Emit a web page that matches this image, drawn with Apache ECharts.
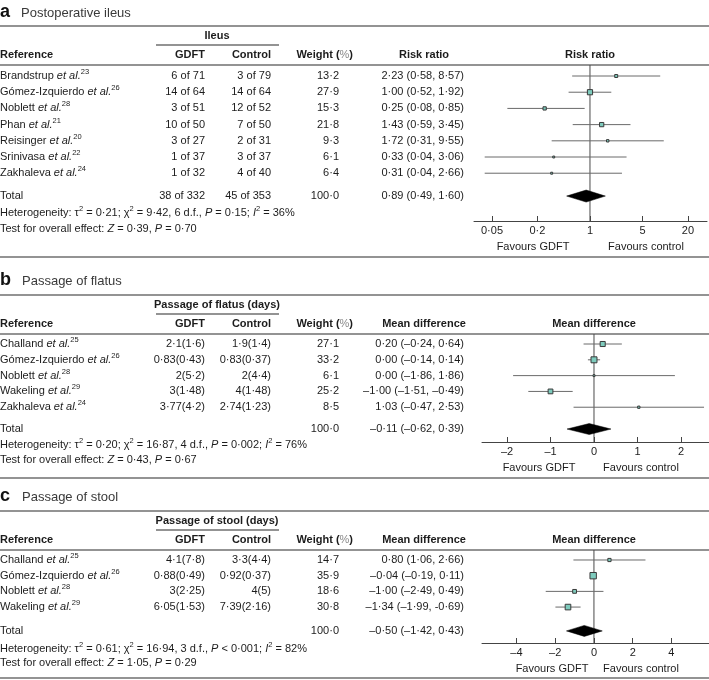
<!DOCTYPE html>
<html><head><meta charset="utf-8">
<script src="https://cdn.jsdelivr.net/npm/echarts@6/dist/echarts.min.js"></script>
<style>html,body{margin:0;padding:0;background:#fff}#c{width:709px;height:680px}</style>
</head><body><div id="c"></div>
<script>
// ---------- Panel a: Postoperative ileus (risk ratio, log scale) ----------
const refsA = ['Brandstrup', 'Gómez-Izquierdo', 'Noblett', 'Phan', 'Reisinger', 'Srinivasa', 'Zakhaleva'];
const supA = ['23', '26', '28', '21', '20', '22', '24'];
const gdftA = ['6 of 71', '14 of 64', '3 of 51', '10 of 50', '3 of 27', '1 of 37', '1 of 32'];
const ctrlA = ['3 of 79', '14 of 64', '12 of 52', '7 of 50', '2 of 31', '3 of 37', '4 of 40'];
const weightA = [13.2, 27.9, 15.3, 21.8, 9.3, 6.1, 6.4];
const estA = [2.23, 1.00, 0.25, 1.43, 1.72, 0.33, 0.31];
const loA = [0.58, 0.52, 0.08, 0.59, 0.31, 0.04, 0.04];
const hiA = [8.57, 1.92, 0.85, 3.45, 9.55, 3.06, 2.66];
const estTextA = ['2·23 (0·58, 8·57)', '1·00 (0·52, 1·92)', '0·25 (0·08, 0·85)', '1·43 (0·59, 3·45)', '1·72 (0·31, 9·55)', '0·33 (0·04, 3·06)', '0·31 (0·04, 2·66)'];
const totalA = { gdft: '38 of 332', ctrl: '45 of 353', weight: 100.0, est: 0.89, lo: 0.49, hi: 1.60, text: '0·89 (0·49, 1·60)' };
const ticksA = [0.05, 0.2, 1, 5, 20];

// ---------- Panel b: Passage of flatus (mean difference) ----------
const refsB = ['Challand', 'Gómez-Izquierdo', 'Noblett', 'Wakeling', 'Zakhaleva'];
const supB = ['25', '26', '28', '29', '24'];
const gdftB = ['2·1(1·6)', '0·83(0·43)', '2(5·2)', '3(1·48)', '3·77(4·2)'];
const ctrlB = ['1·9(1·4)', '0·83(0·37)', '2(4·4)', '4(1·48)', '2·74(1·23)'];
const weightB = [27.1, 33.2, 6.1, 25.2, 8.5];
const estB = [0.20, 0.00, 0.00, -1.00, 1.03];
const loB = [-0.24, -0.14, -1.86, -1.51, -0.47];
const hiB = [0.64, 0.14, 1.86, -0.49, 2.53];
const estTextB = ['0·20 (–0·24, 0·64)', '0·00 (–0·14, 0·14)', '0·00 (–1·86, 1·86)', '–1·00 (–1·51, –0·49)', '1·03 (–0·47, 2·53)'];
const totalB = { gdft: '', ctrl: '', weight: 100.0, est: -0.11, lo: -0.62, hi: 0.39, text: '–0·11 (–0·62, 0·39)' };
const ticksB = [-2, -1, 0, 1, 2];

// ---------- Panel c: Passage of stool (mean difference) ----------
const refsC = ['Challand', 'Gómez-Izquierdo', 'Noblett', 'Wakeling'];
const supC = ['25', '26', '28', '29'];
const gdftC = ['4·1(7·8)', '0·88(0·49)', '3(2·25)', '6·05(1·53)'];
const ctrlC = ['3·3(4·4)', '0·92(0·37)', '4(5)', '7·39(2·16)'];
const weightC = [14.7, 35.9, 18.6, 30.8];
const estC = [0.80, -0.04, -1.00, -1.34];
const loC = [-1.06, -0.19, -2.49, -1.99];
const hiC = [2.66, 0.11, 0.49, -0.69];
const estTextC = ['0·80 (1·06, 2·66)', '–0·04 (–0·19, 0·11)', '–1·00 (–2·49, 0·49)', '–1·34 (–1·99, -0·69)'];
const totalC = { gdft: '', ctrl: '', weight: 100.0, est: -0.50, lo: -1.42, hi: 0.43, text: '–0·50 (–1·42, 0·43)' };
const ticksC = [-4, -2, 0, 2, 4];

// ---------- styling ----------
const FONT = '"Liberation Sans", Arial, Helvetica, sans-serif';
const TXT = '#1c1c1c';
const RULE = '#6f6f6f';
const SQ_FILL = '#7ecbbd';

const panels = [
  { key: 'a', title: 'Postoperative ileus', group: 'Ileus', measure: 'Risk ratio', log: true,
    refs: refsA, sup: supA, gdft: gdftA, ctrl: ctrlA, weight: weightA, est: estA, lo: loA, hi: hiA, estText: estTextA, total: totalA, ticks: ticksA,
    het: 'Heterogeneity: τ{s|2} = 0·21; χ{s|2} = 9·42, 6 d.f., {i|P} = 0·15; {i|I}{s|2} = 36%',
    test: 'Test for overall effect: {i|Z} = 0·39, {i|P} = 0·70',
    gridTop: 65, gridH: 156, yMin: -0.68, yMax: 8.95, totalRow: 7.41, left: 474, right: 2, xMin: -1.540, xMax: 1.554,
    titleY: 12, topRule: 26, groupY: 36, underY: 45, headY: 55, hetY: 213, testY: 229, favY: 247, favG: 533, favC: 646, endRule: 257, diaH: 6 },
  { key: 'b', title: 'Passage of flatus', group: 'Passage of flatus (days)', measure: 'Mean difference', log: false,
    refs: refsB, sup: supB, gdft: gdftB, ctrl: ctrlB, weight: weightB, est: estB, lo: loB, hi: hiB, estText: estTextB, total: totalB, ticks: ticksB,
    het: 'Heterogeneity: τ{s|2} = 0·20; χ{s|2} = 16·87, 4 d.f., {i|P} = 0·002; {i|I}{s|2} = 76%',
    test: 'Test for overall effect: {i|Z} = 0·43, {i|P} = 0·67',
    gridTop: 334, gridH: 108, yMin: -0.633, yMax: 6.2, totalRow: 5.38, left: 482, right: 0, xMin: -2.575, xMax: 2.644,
    titleY: 280, topRule: 295, groupY: 305, underY: 314, headY: 324, hetY: 445, testY: 460, favY: 468, favG: 539, favC: 641, endRule: 478, diaH: 5.5 },
  { key: 'c', title: 'Passage of stool', group: 'Passage of stool (days)', measure: 'Mean difference', log: false,
    refs: refsC, sup: supC, gdft: gdftC, ctrl: ctrlC, weight: weightC, est: estC, lo: loC, hi: hiC, estText: estTextC, total: totalC, ticks: ticksC,
    het: 'Heterogeneity: τ{s|2} = 0·61; χ{s|2} = 16·94, 3 d.f., {i|P} < 0·001; {i|I}{s|2} = 82%',
    test: 'Test for overall effect: {i|Z} = 1·05, {i|P} = 0·29',
    gridTop: 550, gridH: 93, yMin: -0.637, yMax: 5.29, totalRow: 4.52, left: 482, right: 0, xMin: -5.78, xMax: 5.94,
    titleY: 496, topRule: 511, groupY: 521, underY: 530, headY: 540, hetY: 649, testY: 663, favY: 669, favG: 552, favC: 641, endRule: 678, diaH: 5.5 }
];

// column anchors (table grid x units = pixels)
const COL = { ref: 0, gdft: 205, ctrl: 271, weight: 339, est: 464 };

const dot = s => String(s).replace('.', '·');
const fmtTick = v => {
  const r = Math.round(v * 100) / 100;
  return dot(r).replace('-', '–');
};

const richBase = {
  n: { fontSize: 11, fontFamily: FONT, fill: TXT, color: TXT, lineHeight: 16 },
  i: { fontSize: 11, fontFamily: FONT, fontStyle: 'italic', fill: TXT, color: TXT, lineHeight: 16 },
  s: { fontSize: 7.5, fontFamily: FONT, fill: TXT, color: TXT, lineHeight: 8, verticalAlign: 'top' },
  b: { fontSize: 11, fontFamily: FONT, fontWeight: 'bold', fill: TXT, color: TXT, lineHeight: 16 },
  g: { fontSize: 11, fontFamily: FONT, fontWeight: 'normal', fill: '#8a8a8a', color: '#8a8a8a', lineHeight: 16 }
};

function txt(text, x, y, align, opts) {
  opts = opts || {};
  return {
    type: 'text', x: x, y: y, silent: true,
    style: Object.assign({
      text: text, fill: TXT, align: align, textAlign: align, verticalAlign: 'middle', textVerticalAlign: 'middle',
      fontSize: 11, fontFamily: FONT, rich: richBase
    }, opts)
  };
}
function tnode(text, x, y, align, opts) {
  const o = txt(text, x, y, align, opts);
  return o;
}

const grid = [], xAxis = [], yAxis = [], series = [], graphic = [];

panels.forEach((p, pi) => {
  const gT = pi * 2, gF = pi * 2 + 1;
  grid.push({ left: 0, width: 470, top: p.gridTop, height: p.gridH });
  grid.push({ left: p.left, right: p.right, top: p.gridTop, height: p.gridH });

  xAxis.push({ type: 'value', gridIndex: gT, min: 0, max: 470, show: false });
  const tickVals = p.ticks.map(t => p.log ? Math.log10(t) : t);
  xAxis.push({
    type: 'value', gridIndex: gF, min: p.xMin, max: p.xMax, position: 'bottom',
    axisLine: { show: true, onZero: false, lineStyle: { color: '#444', width: 1 } },
    axisTick: { show: true, inside: true, length: 5, customValues: tickVals, lineStyle: { color: '#444', width: 1 } },
    axisLabel: {
      show: true, customValues: tickVals, margin: 4, fontSize: 11, fontFamily: FONT, color: TXT,
      formatter: v => fmtTick(p.log ? Math.pow(10, v) : v)
    },
    splitLine: { show: false }
  });
  yAxis.push({ type: 'value', gridIndex: gT, min: p.yMin, max: p.yMax, inverse: true, show: false });
  yAxis.push({ type: 'value', gridIndex: gF, min: p.yMin, max: p.yMax, inverse: true, show: false });

  // table rows (studies + total)
  const rows = p.refs.map((r, i) => ({
    row: i,
    ref: '{n|' + r + ' }{i|et al.}{s|' + p.sup[i] + '}',
    gdft: p.gdft[i], ctrl: p.ctrl[i], weight: dot(p.weight[i].toFixed(1)), est: p.estText[i]
  }));
  rows.push({ row: p.totalRow, ref: '{n|Total}', gdft: p.total.gdft, ctrl: p.total.ctrl, weight: dot(p.total.weight.toFixed(1)), est: p.total.text });

  series.push({
    type: 'custom', xAxisIndex: gT, yAxisIndex: gT, silent: true, clip: false,
    data: rows.map(r => [0, r.row]),
    encode: { x: 0, y: 1 },
    renderItem: (params, api) => {
      const r = rows[params.dataIndex];
      const y = api.coord([0, r.row])[1];
      const X = k => api.coord([COL[k], r.row])[0];
      return {
        type: 'group', children: [
          tnode(r.ref, X('ref'), y, 'left'),
          tnode(r.gdft, X('gdft'), y, 'right'),
          tnode(r.ctrl, X('ctrl'), y, 'right'),
          tnode(r.weight, X('weight'), y, 'right'),
          tnode(r.est, X('est'), y, 'right')
        ]
      };
    }
  });

  // vertical line of no effect
  const zero = p.log ? Math.log10(1) : 0;
  series.push({
    type: 'line', xAxisIndex: gF, yAxisIndex: gF, silent: true, symbol: 'none', z: 1,
    data: [[zero, p.yMin], [zero, p.yMax]],
    lineStyle: { color: '#4a4a4a', width: 1 }, animation: false
  });

  // forest marks
  const tf = v => p.log ? Math.log10(v) : v;
  const fdata = p.est.map((e, i) => [tf(e), tf(p.lo[i]), tf(p.hi[i]), i, p.weight[i], 0]);
  fdata.push([tf(p.total.est), tf(p.total.lo), tf(p.total.hi), p.totalRow, p.total.weight, 1]);
  series.push({
    type: 'custom', xAxisIndex: gF, yAxisIndex: gF, silent: true, z: 3, clip: false,
    data: fdata,
    encode: { x: [0, 1, 2], y: 3 },
    renderItem: (params, api) => {
      const est = api.value(0), lo = api.value(1), hi = api.value(2), row = api.value(3), w = api.value(4), isTot = api.value(5);
      const c = api.coord([est, row]);
      const pl = api.coord([lo, row]), ph = api.coord([hi, row]);
      if (isTot) {
        const h = p.diaH;
        return {
          type: 'polygon',
          shape: { points: [[pl[0], c[1]], [c[0], c[1] - h], [ph[0], c[1]], [c[0], c[1] + h]] },
          style: { fill: '#000', stroke: '#000', lineWidth: 0.5 }
        };
      }
      const s = 1 + 0.15 * w;
      return {
        type: 'group', children: [
          { type: 'line', shape: { x1: pl[0], y1: pl[1], x2: ph[0], y2: ph[1] }, style: { stroke: '#6a6a6a', lineWidth: 1 } },
          { type: 'rect', shape: { x: c[0] - s / 2, y: c[1] - s / 2, width: s, height: s }, style: { fill: SQ_FILL, stroke: '#3a3a3a', lineWidth: 1 } }
        ]
      };
    }
  });

  // ---- static text / rules ----
  graphic.push(txt(p.key, 0, p.titleY, 'left', { fontSize: 18, fontWeight: 'bold', fill: '#111', rich: null }));
  graphic.push(txt(p.title, p.key === 'a' ? 21 : 22, p.titleY + 1, 'left', { fontSize: 13, fill: '#3a3a3a', rich: null }));
  graphic.push({ type: 'line', silent: true, shape: { x1: 0, y1: p.topRule, x2: 709, y2: p.topRule }, style: { stroke: RULE, lineWidth: 1.3 } });
  graphic.push(txt(p.group, 217, p.groupY, 'center', { fontWeight: 'bold', rich: null }));
  graphic.push({ type: 'line', silent: true, shape: { x1: 156, y1: p.underY, x2: 279, y2: p.underY }, style: { stroke: RULE, lineWidth: 1.3 } });
  graphic.push(txt('Reference', 0, p.headY, 'left', { fontWeight: 'bold', rich: null }));
  graphic.push(txt('GDFT', COL.gdft, p.headY, 'right', { fontWeight: 'bold', rich: null }));
  graphic.push(txt('Control', COL.ctrl, p.headY, 'right', { fontWeight: 'bold', rich: null }));
  graphic.push(txt('{b|Weight (}{g|%}{b|)}', 353, p.headY, 'right'));
  graphic.push(txt(p.measure, 424, p.headY, 'center', { fontWeight: 'bold', rich: null }));
  graphic.push(txt(p.measure, p.log ? 590 : 594, p.headY, 'center', { fontWeight: 'bold', rich: null }));
  graphic.push({ type: 'line', silent: true, shape: { x1: 0, y1: p.gridTop, x2: 709, y2: p.gridTop }, style: { stroke: RULE, lineWidth: 1.3 } });
  graphic.push(txt(p.het, 0, p.hetY, 'left'));
  graphic.push(txt(p.test, 0, p.testY, 'left'));
  graphic.push(txt('Favours GDFT', p.favG, p.favY, 'center', { rich: null }));
  graphic.push(txt('Favours control', p.favC, p.favY, 'center', { rich: null }));
  graphic.push({ type: 'line', silent: true, shape: { x1: 0, y1: p.endRule, x2: 709, y2: p.endRule }, style: { stroke: RULE, lineWidth: 1.3 } });
});

// plain rich text (het/test) need default token style n
graphic.forEach(g => {
  if (g.type === 'text' && g.style.rich && !/^\{/.test(g.style.text)) {
    // wrap unstyled segments into n tokens
    g.style.text = g.style.text.replace(/(^|\})([^{}]+)(\{|$)/g, (m, a, body, b) => a + '{n|' + body + '}' + b);
  }
});

const chart = echarts.init(document.getElementById('c'), null, { renderer: 'canvas' });
chart.setOption({
  animation: false,
  backgroundColor: '#fff',
  grid: grid, xAxis: xAxis, yAxis: yAxis, series: series, graphic: graphic
});
</script>
</body></html>
